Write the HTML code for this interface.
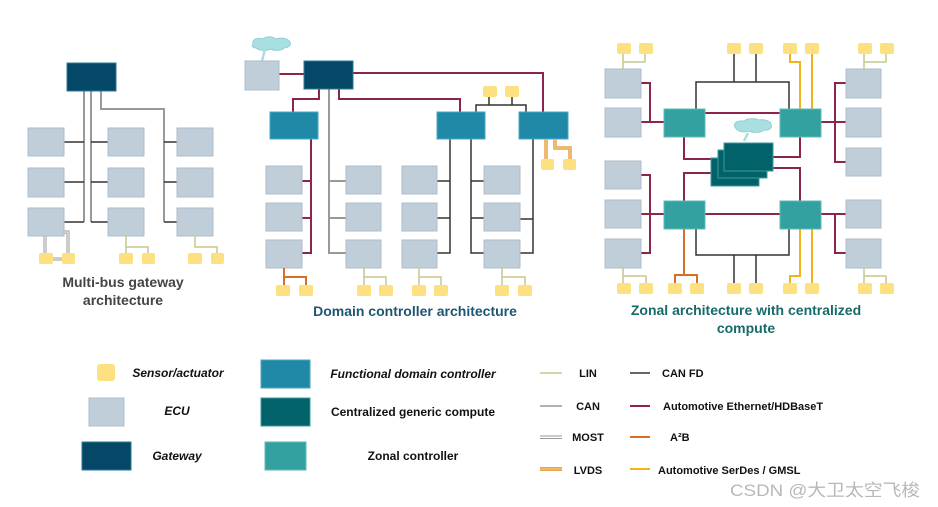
<!DOCTYPE html>
<html><head><meta charset="utf-8"><style>
html,body{margin:0;padding:0;background:#fff;}
svg{display:block;font-family:"Liberation Sans","Noto Sans CJK SC",sans-serif;}
</style></head><body>
<svg width="938" height="507" viewBox="0 0 938 507" xmlns="http://www.w3.org/2000/svg">
<defs>
<style>
.ecu{fill:#c0ced9;stroke:#aebdca;stroke-width:1}
.gw{fill:#044766;stroke:#2b7a95;stroke-width:1}
.dc{fill:#2089a8;stroke:#4aa6c0;stroke-width:1}
.zc{fill:#33a19f;stroke:#5cbcb8;stroke-width:1}
.cc{fill:#02626a;stroke:#3a9a9f;stroke-width:1}
.s{fill:#fde07f}
.eth{stroke:#8c2450;stroke-width:2;fill:none}
.can{stroke:#999;stroke-width:2;fill:none}
.fd{stroke:#333;stroke-width:1.5;fill:none}
.lin{stroke:#c5c98e;stroke-width:1.5;fill:none}
.a2b{stroke:#d4702a;stroke-width:2;fill:none}
.ser{stroke:#f1b31c;stroke-width:2;fill:none}
.cloud{fill:#a8dfe0;stroke:#8cc8cc;stroke-width:0.8}
</style>
</defs>

<!-- ===== Diagram 1 ===== -->
<g>
<path class="can" d="M84 91V222M91 91V222M101 91V109H164V222"/>
<path class="fd" d="M64 142H84M64 182H84M64 222H84M91 142H108M91 182H108M91 222H108M164 142H177M164 182H177M164 222H177"/>
<rect class="gw" x="67" y="63" width="49" height="28"/>
<rect class="ecu" x="28" y="128" width="36" height="28"/><rect class="ecu" x="28" y="168" width="36" height="29"/><rect class="ecu" x="28" y="208" width="36" height="28"/>
<rect class="ecu" x="108" y="128" width="36" height="28"/><rect class="ecu" x="108" y="168" width="36" height="29"/><rect class="ecu" x="108" y="208" width="36" height="28"/>
<rect class="ecu" x="177" y="128" width="36" height="28"/><rect class="ecu" x="177" y="168" width="36" height="29"/><rect class="ecu" x="177" y="208" width="36" height="28"/>
<path d="M45 236V256M64 232H68V256M53 259H62" stroke="#999" stroke-width="3" fill="none"/>
<path d="M45 236V256M64 232H68V256M53 259H62" stroke="#fff" stroke-width="1" fill="none"/>
<path class="lin" d="M126 236V247H148V253M126 247V253M195 236V247H217V253"/>
<rect class="s" x="39" y="253" width="14" height="11" rx="2"/><rect class="s" x="62" y="253" width="13" height="11" rx="2"/>
<rect class="s" x="119" y="253" width="14" height="11" rx="2"/><rect class="s" x="142" y="253" width="13" height="11" rx="2"/>
<rect class="s" x="188" y="253" width="14" height="11" rx="2"/><rect class="s" x="211" y="253" width="13" height="11" rx="2"/>
<text x="123" y="287" font-size="14" font-weight="bold" fill="#444" text-anchor="middle">Multi-bus gateway</text>
<text x="123" y="305" font-size="14" font-weight="bold" fill="#444" text-anchor="middle">architecture</text>
</g>

<!-- ===== Diagram 2 ===== -->
<g>
<path d="M253 44c-2-5 6-7 10-5 2-3 10-3 13 0 4-2 12-1 14 3 2 3-2 6-6 6-2 3-10 3-13 1-4 2-12 2-15-1-3 0-5-2-3-4z" class="cloud"/>
<path d="M265 49L262 61" stroke="#a8dfe0" stroke-width="2.5"/>
<path class="eth" d="M279 74H304M353 73H543V112M319 89V99H293V112M339 89V99H460V112M311 139V253H302M311 181H302M311 218H302"/>
<path class="can" d="M329 89V253H346M329 181H346M329 218H346"/>
<path class="fd" d="M450 139V253H437M450 181H437M450 218H437M471 139V253H484M471 181H484M471 218H484M533 139V253H520M533 219H520M476 112V105H526V112M489 97V105M512 97V105"/>
<rect class="ecu" x="245" y="61" width="34" height="29"/>
<rect class="gw" x="304" y="61" width="49" height="28"/>
<rect class="dc" x="270" y="112" width="48" height="27"/>
<rect class="dc" x="437" y="112" width="48" height="27"/>
<rect class="dc" x="519" y="112" width="49" height="27"/>
<rect class="ecu" x="266" y="166" width="36" height="28"/><rect class="ecu" x="266" y="203" width="36" height="28"/><rect class="ecu" x="266" y="240" width="36" height="28"/>
<rect class="ecu" x="346" y="166" width="35" height="28"/><rect class="ecu" x="346" y="203" width="35" height="28"/><rect class="ecu" x="346" y="240" width="35" height="28"/>
<rect class="ecu" x="402" y="166" width="35" height="28"/><rect class="ecu" x="402" y="203" width="35" height="28"/><rect class="ecu" x="402" y="240" width="35" height="28"/>
<rect class="ecu" x="484" y="166" width="36" height="28"/><rect class="ecu" x="484" y="203" width="36" height="28"/><rect class="ecu" x="484" y="240" width="36" height="28"/>
<path d="M546 139V159M555 139V148H570V159" stroke="#e8a24a" stroke-width="3.5" fill="none"/>
<path d="M546 139V159M555 139V148H570V159" stroke="#f6d08e" stroke-width="1" fill="none"/>
<rect class="s" x="483" y="86" width="14" height="11" rx="2"/><rect class="s" x="505" y="86" width="14" height="11" rx="2"/>
<rect class="s" x="541" y="159" width="13" height="11" rx="2"/><rect class="s" x="563" y="159" width="13" height="11" rx="2"/>
<path class="a2b" d="M284 268V285M284 277H306V285"/>
<path class="lin" d="M364 268V285M364 277H386V285M419 268V285M419 277H441V285M502 268V285M502 277H525V285"/>
<rect class="s" x="276" y="285" width="14" height="11" rx="2"/><rect class="s" x="299" y="285" width="14" height="11" rx="2"/>
<rect class="s" x="357" y="285" width="14" height="11" rx="2"/><rect class="s" x="379" y="285" width="14" height="11" rx="2"/>
<rect class="s" x="412" y="285" width="14" height="11" rx="2"/><rect class="s" x="434" y="285" width="14" height="11" rx="2"/>
<rect class="s" x="495" y="285" width="14" height="11" rx="2"/><rect class="s" x="518" y="285" width="14" height="11" rx="2"/>
<text x="415" y="316" font-size="14" font-weight="bold" fill="#1d5673" text-anchor="middle">Domain controller architecture</text>
</g>

<!-- ===== Diagram 3 ===== -->
<g>
<path class="eth" d="M641 83H650V122M641 122H664M641 175H650V253H641M641 214H664M881 83H835V162H881M821 122H881M821 214H846M835 214V253H846M705 113H780M705 214H780M684 137V159H711M800 137V157H773M684 201V173H711M800 201V168H773"/>
<path class="fd" d="M696 109V82H789V109M734 54V82M756 54V82M696 229V255H789V229M734 255V283M756 255V283"/>
<path class="ser" d="M800 109V62H790V54M812 109V54M800 229V276H790V283M812 229V283"/>
<path class="a2b" d="M684 229V275M675 283V275H697V283"/>
<path class="lin" d="M623 69V62H645V54M623 62V54M864 69V62H886V54M864 62V54M623 268V276H646V283M623 276V283M864 268V276H886V283M864 276V283"/>
<rect class="ecu" x="605" y="69" width="36" height="29"/><rect class="ecu" x="605" y="108" width="36" height="29"/>
<rect class="ecu" x="605" y="161" width="36" height="28"/><rect class="ecu" x="605" y="200" width="36" height="28"/><rect class="ecu" x="605" y="239" width="36" height="29"/>
<rect class="ecu" x="846" y="69" width="35" height="29"/><rect class="ecu" x="846" y="108" width="35" height="29"/><rect class="ecu" x="846" y="148" width="35" height="28"/>
<rect class="ecu" x="846" y="200" width="35" height="28"/><rect class="ecu" x="846" y="239" width="35" height="29"/>
<rect class="zc" x="664" y="109" width="41" height="28"/><rect class="zc" x="780" y="109" width="41" height="28"/>
<rect class="zc" x="664" y="201" width="41" height="28"/><rect class="zc" x="780" y="201" width="41" height="28"/>
<rect class="cc" x="711" y="158" width="48" height="28"/>
<rect class="cc" x="718" y="150" width="49" height="28"/>
<rect class="cc" x="724" y="143" width="49" height="28"/>
<path d="M735 127c-3-4 4-7 9-6 3-3 12-3 15-1 5-1 13 1 12 5 2 3-3 6-7 5-3 3-12 3-15 1-4 2-12 1-14-4z" class="cloud"/>
<path d="M748 133L744 141" stroke="#a8dfe0" stroke-width="2.5"/>
<rect class="s" x="617" y="43" width="14" height="11" rx="2"/><rect class="s" x="639" y="43" width="14" height="11" rx="2"/>
<rect class="s" x="727" y="43" width="14" height="11" rx="2"/><rect class="s" x="749" y="43" width="14" height="11" rx="2"/>
<rect class="s" x="783" y="43" width="14" height="11" rx="2"/><rect class="s" x="805" y="43" width="14" height="11" rx="2"/>
<rect class="s" x="858" y="43" width="14" height="11" rx="2"/><rect class="s" x="880" y="43" width="14" height="11" rx="2"/>
<rect class="s" x="617" y="283" width="14" height="11" rx="2"/><rect class="s" x="639" y="283" width="14" height="11" rx="2"/>
<rect class="s" x="668" y="283" width="14" height="11" rx="2"/><rect class="s" x="690" y="283" width="14" height="11" rx="2"/>
<rect class="s" x="727" y="283" width="14" height="11" rx="2"/><rect class="s" x="749" y="283" width="14" height="11" rx="2"/>
<rect class="s" x="783" y="283" width="14" height="11" rx="2"/><rect class="s" x="805" y="283" width="14" height="11" rx="2"/>
<rect class="s" x="858" y="283" width="14" height="11" rx="2"/><rect class="s" x="880" y="283" width="14" height="11" rx="2"/>
<text x="746" y="315" font-size="14" font-weight="bold" fill="#176a6a" text-anchor="middle">Zonal architecture with centralized</text>
<text x="746" y="333" font-size="14" font-weight="bold" fill="#176a6a" text-anchor="middle">compute</text>
</g>

<!-- ===== Legend ===== -->
<g font-size="12" font-weight="bold" fill="#111">
<rect class="s" x="97" y="364" width="18" height="17" rx="3"/>
<text x="178" y="377" text-anchor="middle" font-style="italic">Sensor/actuator</text>
<rect class="ecu" x="89" y="398" width="35" height="28"/>
<text x="177" y="415" text-anchor="middle" font-style="italic">ECU</text>
<rect class="gw" x="82" y="442" width="49" height="28"/>
<text x="177" y="460" text-anchor="middle" font-style="italic">Gateway</text>
<rect class="dc" x="261" y="360" width="49" height="28"/>
<text x="413" y="378" text-anchor="middle" font-style="italic">Functional domain controller</text>
<rect class="cc" x="261" y="398" width="49" height="28"/>
<text x="413" y="416" text-anchor="middle">Centralized generic compute</text>
<rect class="zc" x="265" y="442" width="41" height="28"/>
<text x="413" y="460" text-anchor="middle">Zonal controller</text>

<g font-size="11">
<path d="M540 373H562" stroke="#c5c98e" stroke-width="1.5"/>
<text x="588" y="377" text-anchor="middle">LIN</text>
<path d="M540 406H562" stroke="#999" stroke-width="1.5"/>
<text x="588" y="410" text-anchor="middle">CAN</text>
<path d="M540 436H562M540 438.5H562" stroke="#999" stroke-width="1"/>
<text x="588" y="441" text-anchor="middle">MOST</text>
<path d="M540 469H562" stroke="#e8a24a" stroke-width="4"/><path d="M540 469H562" stroke="#f6d08e" stroke-width="1"/>
<text x="588" y="474" text-anchor="middle">LVDS</text>
<path d="M630 373H650" stroke="#333" stroke-width="1.5"/>
<text x="662" y="377">CAN FD</text>
<path d="M630 406H650" stroke="#8c2450" stroke-width="2"/>
<text x="663" y="410">Automotive Ethernet/HDBaseT</text>
<path d="M630 437H650" stroke="#d4702a" stroke-width="2"/>
<text x="670" y="441">A²B</text>
<path d="M630 469H650" stroke="#f1b31c" stroke-width="2"/>
<text x="658" y="474">Automotive SerDes / GMSL</text>
</g>
</g>
<text x="730" y="496" font-size="17" fill="#b8b8b8" textLength="190" lengthAdjust="spacingAndGlyphs">CSDN @大卫太空飞梭</text>
</svg>
</body></html>
